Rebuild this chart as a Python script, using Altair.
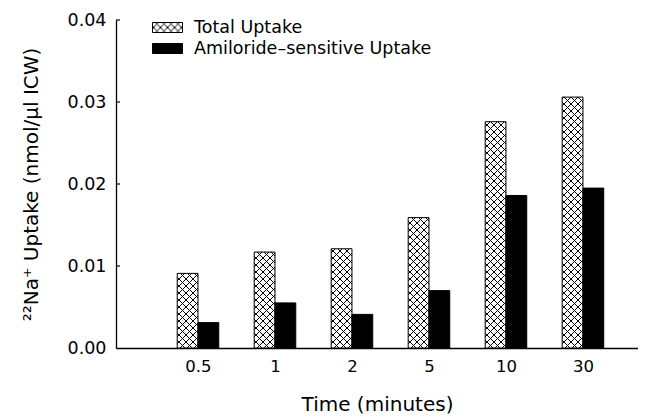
import altair as alt
import pandas as pd
import jinja2

# ---- data ----
times = ["0.5", "1", "2", "5", "10", "30"]
total_uptake = [0.0091, 0.0117, 0.0121, 0.0159, 0.0276, 0.0306]
amiloride_uptake = [0.0031, 0.0055, 0.0041, 0.0070, 0.0186, 0.0195]
series_names = ["Total Uptake", "Amiloride\u2013sensitive Uptake"]
y_ticks = [0.00, 0.01, 0.02, 0.03, 0.04]

rows = []
for i, t in enumerate(times):
    rows.append({"time": t, "pos": i + 1, "series": series_names[0], "value": total_uptake[i]})
    rows.append({"time": t, "pos": i + 1, "series": series_names[1], "value": amiloride_uptake[i]})
df = pd.DataFrame(rows)
tick_df = pd.DataFrame({"v": y_ticks[1:]})

FONT = "DejaVu Sans"
BW = 0.27  # bar width in slot units
label_expr = "[''," + ",".join("'" + t + "'" for t in times) + "][datum.value]"

# ---- hatch pattern definition injected into the page template ----
HATCH = ('<svg width="0" height="0" style="position:absolute"><defs>'
         '<pattern id="hatch" patternUnits="userSpaceOnUse" width="7" height="7">'
         '<rect width="7" height="7" fill="white"/>'
         '<path d="M0,0L7,7M7,0L0,7" stroke="black" stroke-width="1"/>'
         '</pattern></defs></svg>')
try:
    import altair.utils.html as _ah
    _std = _ah.TEMPLATES["standard"]
    _tpl = jinja2.Template("")

    def _render(*a, **k):
        html = _std.render(*a, **k)
        if "<body>" in html:
            return html.replace("<body>", "<body>\n" + HATCH, 1)
        idx = html.find("<div")
        return html[:idx] + HATCH + html[idx:] if idx >= 0 else HATCH + html

    _tpl.render = _render
    _ah.TEMPLATES["standard"] = _tpl
except Exception:
    pass

xscale = alt.Scale(domain=[0, 6.65], nice=False, zero=False)
yscale = alt.Scale(domain=[0, 0.04], nice=False)

bars = alt.Chart(df).mark_bar(stroke="black", strokeWidth=1, orient="vertical").transform_calculate(
    x0=f"datum.pos - (datum.series === '{series_names[0]}' ? {BW} : 0)",
    x1=f"datum.pos + (datum.series === '{series_names[0]}' ? 0 : {BW})",
).encode(
    x=alt.X("x0:Q", scale=xscale, axis=alt.Axis(
        values=[1, 2, 3, 4, 5, 6], labelExpr=label_expr, ticks=False, tickSize=0,
        grid=False, labelPadding=10, labelFontSize=16.5, labelFont=FONT,
        labelColor="black", title="Time (minutes)", titleFontSize=20,
        titleFont=FONT, titleFontWeight="normal", titleColor="black",
        titlePadding=20, domainColor="black", domainWidth=1.3)),
    x2="x1:Q",
    y=alt.Y("value:Q", scale=yscale, axis=alt.Axis(
        values=y_ticks, format=".2f", ticks=False, tickSize=0, grid=False,
        labelPadding=10, labelFontSize=17.5, labelFont=FONT, labelColor="black",
        title="\u00b2\u00b2Na\u207a Uptake (nmol/\u03bcl ICW)", titleFontSize=20,
        titleFont=FONT, titleFontWeight="normal", titleColor="black",
        titlePadding=26, domainColor="black", domainWidth=1.3)),
    y2=alt.datum(0),
    fill=alt.Fill("series:N", scale=alt.Scale(domain=series_names,
                                              range=["url(#hatch) #b0b0b0", "black"]),
                  legend=alt.Legend(
                      title=None, orient="none", legendX=41, legendY=-3,
                      symbolType="M-1.5,-0.5H1.5V0.5H-1.5Z", symbolSize=400,
                      symbolStrokeColor="black", symbolStrokeWidth=1, symbolOpacity=1,
                      labelFont=FONT, labelFontSize=17.5, labelColor="black",
                      labelLimit=0, labelOffset=16, rowPadding=2, padding=0)),
)

ticks = alt.Chart(tick_df).mark_rule(color="black", strokeWidth=1.2).encode(
    y=alt.Y("v:Q", scale=yscale), x=alt.value(0), x2=alt.value(4))

chart = alt.layer(bars, ticks).properties(
    width=522, height=328,
    autosize=alt.AutoSizeParams(type="none"),
    padding={"left": 108, "top": 12, "right": 0, "bottom": 68},
).configure(
    background="white",
    view=alt.ViewConfig(strokeWidth=0, stroke="transparent"),
)

chart.save("out.html", embed_options={"renderer": "svg", "actions": False})
